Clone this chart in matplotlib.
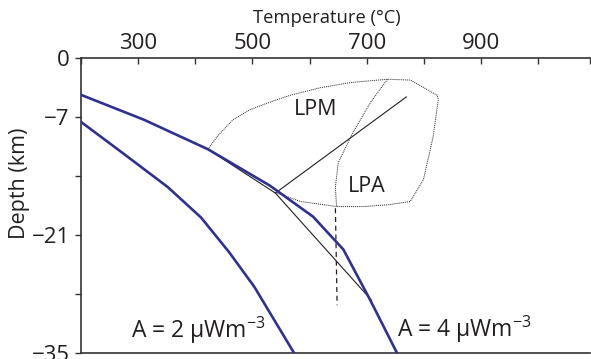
"""Geotherms with LPM / LPA fields — depth vs temperature."""
import matplotlib
matplotlib.use("Agg")
import matplotlib.pyplot as plt

FONT = "Open Sans"
plt.rcParams["font.family"] = [FONT, "DejaVu Sans"]
plt.rcParams["mathtext.fontset"] = "custom"
plt.rcParams["mathtext.rm"] = FONT
plt.rcParams["mathtext.it"] = FONT

BLUE = "#2E3192"
INK = "#231F20"

# geotherm A = 4 uW/m3 (temperature degC, depth km)
temp_a4 = [200, 310, 422, 530, 606, 659, 706, 753]
depth_a4 = [-4.35, -7.3, -10.8, -15.1, -18.8, -22.7, -28.7, -35.0]

# geotherm A = 2 uW/m3
temp_a2 = [200, 270, 352, 410, 459, 503, 573]
depth_a2 = [-7.56, -11.1, -15.3, -18.9, -23.0, -27.1, -35.0]

# thin black path and the branch into the fields
temp_path = [422, 540, 708]
depth_path = [-10.8, -16.0, -28.7]
temp_branch = [540, 769]
depth_branch = [-16.0, -4.6]

# dashed vertical
temp_dash = [645, 648]
depth_dash = [-17.8, -29.3]

# LPM field outline
temp_lpm = [422, 438, 466, 496, 531, 566, 619, 671, 736, 776, 823, 825,
            816, 799, 776, 736, 694, 648, 584, 543]
depth_lpm = [-10.8, -9.3, -7.3, -6.1, -5.2, -4.4, -3.5, -2.9, -2.5, -2.6, -4.4, -4.9,
             -9.3, -14.4, -17.0, -17.4, -17.6, -17.6, -17.0, -16.0]

# LPA inner boundary
temp_lpa = [736, 706, 675, 650, 645, 647]
depth_lpa = [-2.5, -5.3, -8.9, -12.4, -15.3, -17.6]

xticks = [200, 300, 400, 500, 600, 700, 800, 900, 1000, 1090]
xtick_labels = ["", "300", "", "500", "", "700", "", "900", "", ""]
yticks = [0, -7, -14, -21, -28, -35]
ytick_labels = ["0", "\u22127", "", "\u221221", "", "\u221235"]

fig = plt.figure(figsize=(5.91, 3.59), dpi=100)
ax = fig.add_axes([0.137, 0.016, 0.861, 0.822])

ax.plot(temp_a4, depth_a4, color=BLUE, lw=1.9, solid_joinstyle="miter", zorder=3)
ax.plot(temp_a2, depth_a2, color=BLUE, lw=1.9, solid_joinstyle="miter", zorder=3)
ax.plot(temp_path, depth_path, color=INK, lw=0.8, zorder=2)
ax.plot(temp_branch, depth_branch, color=INK, lw=0.8, zorder=2)
ax.plot(temp_dash, depth_dash, color=INK, lw=0.9, linestyle=(0, (4, 3)), zorder=2)
ax.plot(temp_lpm, depth_lpm, color=INK, lw=0.7, linestyle=(0, (1, 1)), zorder=2)
ax.plot(temp_lpa, depth_lpa, color=INK, lw=0.7, linestyle=(0, (1, 1)), zorder=2)

ax.text(610, -6.1, "LPM", fontsize=15.5, color=INK, ha="center", va="center")
ax.text(700, -15.2, "LPA", fontsize=15.5, color=INK, ha="center", va="center")
ax.text(288, -33.2, r"A = 2 $\mu$Wm$^{-3}$", fontsize=16.5, color=INK,
        ha="left", va="baseline")
ax.text(753, -33.1, r"A = 4 $\mu$Wm$^{-3}$", fontsize=16.5, color=INK,
        ha="left", va="baseline")

ax.set_xlim(200, 1090)
ax.set_ylim(-35, 0)
ax.xaxis.tick_top()
ax.set_xticks(xticks)
ax.set_xticklabels(xtick_labels)
ax.set_yticks(yticks)
ax.set_yticklabels(ytick_labels)
ax.tick_params(axis="x", direction="in", length=4, width=1, pad=3,
               labelsize=16, colors="#333333", labelcolor=INK)
ax.tick_params(axis="y", direction="out", length=4, width=1, pad=4,
               labelsize=16, colors="#333333", labelcolor=INK)

ax.spines["right"].set_visible(False)
for side in ("left", "top", "bottom"):
    ax.spines[side].set_color("#333333")
    ax.spines[side].set_linewidth(1.2)

ax.xaxis.set_label_position("top")
ax.set_xlabel("Temperature (\u00b0C)", fontsize=13.2, color=INK)
ax.xaxis.set_label_coords(0.483, 1.12)
ax.set_ylabel("Depth (km)", fontsize=15.5, color=INK)
ax.yaxis.set_label_coords(-0.10, 0.577)

fig.savefig("out.png", dpi=100)
